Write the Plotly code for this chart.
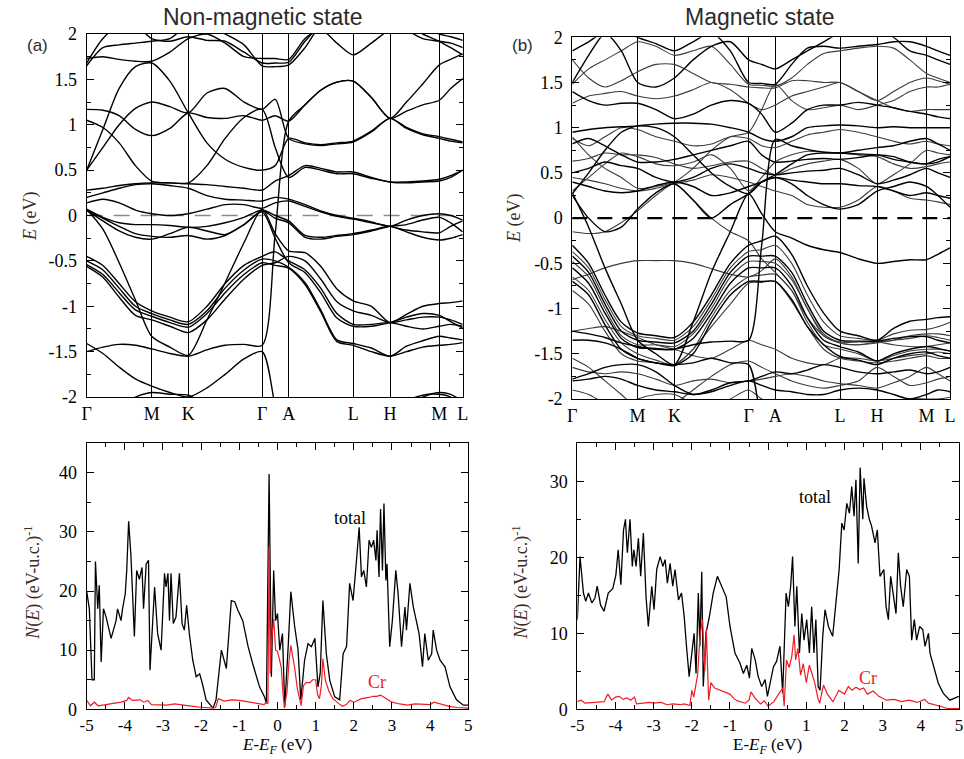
import plotly.graph_objects as go

SERIF = "Liberation Serif, Times New Roman, serif"
SANS = "Liberation Sans, Arial, sans-serif"

# ---------------- k-path ----------------
K_LABELS = ["Γ", "M", "K", "Γ", "A", "L", "H", "M", "L"]
K_HS = [0.0, 1.0, 1.563, 2.70, 3.108, 4.10, 4.667, 5.425, 5.785]
K_GRID = [0.0, 0.25, 0.5, 0.75, 1.0, 1.28, 1.563, 1.85, 2.13, 2.42, 2.70,
          2.90, 3.108, 3.36, 3.60, 3.85, 4.10, 4.38, 4.667, 4.92, 5.17, 5.425, 5.60, 5.785]

E_TICKS = [-2, -1.5, -1, -0.5, 0, 0.5, 1, 1.5, 2]
E_TICKTEXT = ["-2", "-1.5", "-1", "-0.5", "0", "0.5", "1", "1.5", "2"]
E_MINOR = [-1.75, -1.25, -0.75, -0.25, 0.25, 0.75, 1.25, 1.75]

# ---------------- non-magnetic bands (eV at K_GRID) ----------------
BANDS_NM = [
    [1.73, 1.75, 1.72, 1.70, 1.70, 1.80, 1.95, 2.00, 1.90, 1.75, 1.73, 1.73, 1.72, 1.95, 2.05, 1.90, 1.77, 1.90, 2.05, 2.10, 2.00, 1.92, 1.85, 1.77],
    [1.68, 1.95, 2.10, 2.10, 1.95, 1.92, 1.97, 1.93, 1.92, 1.80, 1.68, 1.68, 1.69, 1.92, 2.10, 2.20, 2.20, 2.20, 2.20, 2.20, 2.10, 2.00, 1.97, 1.93],
    [1.65, 1.85, 1.88, 1.90, 1.92, 1.95, 2.10, 2.10, 2.00, 1.88, 1.65, 1.64, 1.66, 1.85, 2.10, 2.20, 2.20, 2.20, 2.20, 2.05, 1.95, 1.92, 1.90, 1.85],
    [0.50, 0.75, 1.00, 1.18, 1.25, 1.20, 1.13, 1.35, 1.40, 1.25, 1.17, 1.28, 0.85, 0.79, 0.77, 0.79, 0.81, 0.92, 1.07, 0.97, 0.90, 0.87, 0.84, 0.81],
    [1.05, 0.97, 0.80, 0.55, 0.38, 0.36, 0.36, 0.55, 0.85, 1.08, 1.17, 0.75, 0.42, 0.53, 0.50, 0.46, 0.46, 0.41, 0.37, 0.37, 0.38, 0.40, 0.44, 0.50],
    [1.17, 1.16, 1.10, 0.95, 0.88, 0.96, 1.13, 1.08, 1.07, 1.10, 1.05, 1.10, 1.04, 1.22, 1.38, 1.47, 1.48, 1.30, 1.07, 1.15, 1.22, 1.27, 1.40, 1.51],
    [0.50, 0.95, 1.40, 1.64, 1.68, 1.48, 1.13, 0.80, 0.62, 0.53, 0.50, 0.55, 0.85, 0.80, 0.78, 0.80, 0.82, 0.93, 1.07, 0.96, 0.89, 0.85, 0.82, 0.80],
    [0.28, 0.30, 0.33, 0.35, 0.36, 0.36, 0.35, 0.34, 0.32, 0.30, 0.28, 0.38, 0.44, 0.55, 0.52, 0.48, 0.48, 0.42, 0.37, 0.36, 0.37, 0.38, 0.42, 0.50],
    [0.20, 0.25, 0.30, 0.34, 0.35, 0.33, 0.30, 0.22, 0.18, 0.17, 0.16, 0.20, 0.18, 0.12, 0.05, 0.00, -0.03, -0.07, -0.12, -0.05, 0.00, 0.02, 0.00, -0.05],
    [0.14, 0.18, 0.14, 0.06, 0.02, 0.00, 0.02, 0.07, 0.12, 0.12, 0.08, 0.14, 0.16, 0.10, 0.04, -0.01, -0.04, -0.08, -0.12, -0.16, -0.18, -0.19, -0.12, -0.06],
    [0.07, -0.02, -0.08, -0.10, -0.10, -0.11, -0.13, -0.12, -0.08, -0.02, 0.06, 0.00, -0.06, -0.22, -0.24, -0.22, -0.20, -0.16, -0.12, -0.18, -0.24, -0.27, -0.25, -0.21],
    [0.06, -0.06, -0.17, -0.24, -0.26, -0.20, -0.13, -0.17, -0.21, -0.10, 0.05, -0.03, -0.08, -0.24, -0.26, -0.23, -0.21, -0.17, -0.12, -0.10, -0.05, -0.02, -0.08, -0.18],
    [0.07, -0.15, -0.52, -0.93, -1.33, -1.45, -1.54, -1.15, -0.74, -0.30, 0.07, -0.20, -0.39, -0.41, -0.56, -0.81, -0.94, -1.00, -1.18, -1.09, -1.00, -0.97, -0.96, -0.94],
    [0.05, -0.03, -0.12, -0.20, -0.23, -0.24, -0.22, -0.26, -0.22, -0.10, 0.04, -0.25, -0.52, -0.63, -0.85, -1.13, -1.22, -1.22, -1.18, -1.12, -1.08, -1.10, -1.17, -1.24],
    [-0.45, -0.55, -0.75, -0.95, -1.05, -1.12, -1.17, -1.00, -0.75, -0.55, -0.45, -0.40, -0.50, -0.60, -0.80, -1.08, -1.20, -1.20, -1.18, -1.22, -1.25, -1.22, -1.20, -1.22],
    [-0.50, -0.60, -0.80, -1.00, -1.08, -1.15, -1.20, -1.05, -0.80, -0.60, -0.48, -0.50, -0.57, -0.74, -1.04, -1.37, -1.41, -1.46, -1.55, -1.44, -1.38, -1.33, -1.35, -1.37],
    [-0.54, -0.65, -0.85, -1.04, -1.11, -1.18, -1.23, -1.08, -0.85, -0.65, -0.52, -0.55, -0.58, -0.76, -1.06, -1.39, -1.43, -1.50, -1.55, -1.50, -1.45, -1.43, -1.42, -1.40],
    [-0.56, -0.68, -0.90, -1.10, -1.15, -1.22, -1.29, -1.15, -0.92, -0.70, -0.55, -0.52, -0.45, -0.50, -0.70, -0.95, -1.05, -1.10, -1.18, -1.15, -1.12, -1.12, -1.15, -1.20],
    [-1.41, -1.52, -1.67, -1.80, -1.88, -1.95, -2.00, -1.90, -1.75, -1.58, -1.50, -2.10, -2.70, -2.70, -2.70, -2.70, -2.70, -2.70, -2.70, -2.70, -2.70, -2.70, -2.70, -2.70],
    [-1.50, -1.45, -1.42, -1.43, -1.47, -1.52, -1.55, -1.48, -1.43, -1.42, -1.43, -0.20, 1.04, 1.22, 1.38, 1.47, 1.48, 1.30, 1.07, 1.25, 1.45, 1.66, 1.72, 1.78],
    [-2.20, -2.20, -2.10, -2.00, -1.95, -1.97, -1.98, -2.10, -2.20, -2.20, -2.20, -2.20, -2.20, -2.20, -2.20, -2.20, -2.20, -2.20, -2.20, -2.10, -2.00, -1.95, -1.97, -2.05],
    [-2.30, -2.30, -2.30, -2.30, -2.30, -2.30, -2.30, -2.30, -2.30, -2.30, -2.30, -2.30, -2.30, -2.30, -2.30, -2.30, -2.30, -2.30, -2.30, -2.05, -1.98, -1.97, -2.00, -2.10],
]

# ---------------- magnetic bands: two spin channels ----------------
BANDS_M_UP = [
    [1.50, 1.80, 2.05, 2.10, 2.00, 1.93, 1.85, 1.95, 2.05, 1.85, 1.50, 1.49, 1.48, 1.70, 1.88, 1.90, 1.88, 1.90, 1.92, 1.95, 1.95, 1.90, 1.85, 1.80],
    [1.85, 1.95, 2.05, 1.85, 1.50, 1.45, 1.55, 1.75, 1.90, 1.95, 1.75, 1.70, 1.65, 1.75, 1.85, 1.95, 2.05, 2.10, 2.10, 2.00, 1.85, 1.80, 1.75, 1.70],
    [1.40, 1.30, 1.25, 1.27, 1.27, 1.20, 1.10, 1.15, 1.25, 1.30, 1.27, 1.15, 0.95, 1.05, 1.20, 1.25, 1.25, 1.28, 1.25, 1.22, 1.18, 1.15, 1.12, 1.10],
    [0.95, 0.98, 1.00, 1.01, 1.02, 1.04, 1.05, 1.05, 1.04, 1.00, 0.95, 0.88, 0.85, 0.90, 1.00, 1.02, 1.03, 1.02, 1.00, 1.01, 1.00, 1.00, 1.00, 1.00],
    [0.82, 0.88, 0.80, 0.70, 0.62, 0.62, 0.65, 0.70, 0.75, 0.80, 0.85, 0.70, 0.62, 0.63, 0.65, 0.66, 0.65, 0.67, 0.70, 0.68, 0.62, 0.60, 0.62, 0.68],
    [0.50, 0.55, 0.62, 0.58, 0.55, 0.45, 0.40, 0.45, 0.55, 0.60, 0.55, 0.50, 0.48, 0.50, 0.52, 0.53, 0.55, 0.48, 0.38, 0.42, 0.48, 0.55, 0.50, 0.45],
    [0.40, 0.35, 0.30, 0.28, 0.30, 0.36, 0.40, 0.35, 0.25, 0.28, 0.35, 0.40, 0.45, 0.38, 0.25, 0.15, 0.10, 0.15, 0.30, 0.35, 0.40, 0.35, 0.25, 0.12],
    [0.25, 0.00, -0.15, -0.10, 0.10, 0.28, 0.38, 0.20, 0.00, 0.15, 0.27, 0.40, 0.45, 0.42, 0.40, 0.38, 0.38, 0.36, 0.35, 0.30, 0.25, 0.28, 0.25, 0.22],
    [0.27, 0.50, 0.75, 0.95, 1.02, 1.00, 0.90, 0.70, 0.50, 0.35, 0.27, 0.40, 0.48, 0.60, 0.70, 0.72, 0.72, 0.75, 0.78, 0.80, 0.85, 0.88, 0.82, 0.75],
    [0.28, -0.10, -0.55, -0.95, -1.35, -1.50, -1.62, -1.15, -0.60, -0.15, 0.27, 0.05, -0.15, -0.22, -0.30, -0.35, -0.38, -0.45, -0.50, -0.48, -0.46, -0.46, -0.40, -0.33],
    [-0.30, -0.50, -0.85, -1.15, -1.27, -1.30, -1.32, -1.15, -0.85, -0.50, -0.30, -0.25, -0.20, -0.40, -0.75, -1.05, -1.25, -1.30, -1.35, -1.22, -1.14, -1.12, -1.10, -1.09],
    [-0.42, -0.60, -0.95, -1.25, -1.35, -1.37, -1.38, -1.25, -0.95, -0.60, -0.42, -0.42, -0.42, -0.60, -0.95, -1.25, -1.35, -1.36, -1.36, -1.33, -1.31, -1.31, -1.35, -1.38],
    [-0.55, -0.72, -1.05, -1.33, -1.43, -1.44, -1.45, -1.33, -1.05, -0.72, -0.55, -0.55, -0.55, -0.75, -1.10, -1.35, -1.42, -1.48, -1.58, -1.50, -1.45, -1.42, -1.44, -1.47],
    [-0.70, -0.85, -1.18, -1.45, -1.55, -1.60, -1.63, -1.50, -1.15, -0.85, -0.70, -0.70, -0.70, -0.90, -1.20, -1.40, -1.53, -1.57, -1.62, -1.55, -1.50, -1.48, -1.52, -1.55],
    [-1.25, -1.28, -1.32, -1.38, -1.42, -1.45, -1.45, -1.40, -1.37, -1.36, -1.35, -0.30, 0.87, 0.80, 0.76, 0.73, 0.72, 0.71, 0.70, 0.65, 0.62, 0.60, 0.65, 0.68],
    [-1.35, -1.35, -1.38, -1.45, -1.55, -1.60, -1.62, -1.60, -1.55, -1.60, -1.62, -2.30, -2.90, -2.90, -2.90, -2.90, -2.90, -2.90, -2.90, -2.90, -2.90, -2.90, -2.90, -2.90],
    [-1.80, -1.78, -1.75, -1.78, -1.85, -1.90, -1.92, -1.95, -1.92, -1.85, -1.80, -1.85, -1.90, -1.92, -1.95, -1.95, -1.90, -1.88, -1.90, -1.95, -2.00, -1.95, -1.90, -1.92],
    [-1.78, -1.72, -1.65, -1.62, -1.62, -1.70, -1.85, -1.95, -1.90, -1.82, -1.80, -1.75, -1.70, -1.72, -1.68, -1.62, -1.65, -1.70, -1.72, -1.70, -1.68, -1.72, -1.70, -1.65],
]
BANDS_M_DN = [
    [1.48, 1.65, 1.75, 1.85, 1.95, 1.90, 1.80, 1.85, 1.90, 1.70, 1.48, 1.47, 1.46, 1.55, 1.70, 1.82, 1.85, 1.88, 1.90, 1.88, 1.75, 1.60, 1.55, 1.50],
    [1.75, 1.55, 1.45, 1.52, 1.62, 1.70, 1.70, 1.60, 1.50, 1.48, 1.45, 1.44, 1.44, 1.52, 1.52, 1.50, 1.50, 1.40, 1.30, 1.40, 1.50, 1.55, 1.52, 1.48],
    [1.27, 1.35, 1.38, 1.40, 1.35, 1.32, 1.35, 1.42, 1.50, 1.42, 1.27, 1.20, 1.25, 1.35, 1.40, 1.45, 1.50, 1.40, 1.30, 1.22, 1.18, 1.20, 1.20, 1.20],
    [0.88, 0.80, 0.90, 1.00, 0.98, 0.90, 0.85, 0.80, 0.82, 0.90, 0.88, 0.80, 0.78, 0.85, 0.92, 0.95, 0.98, 0.95, 0.90, 0.85, 0.82, 0.85, 0.82, 0.80],
    [0.63, 0.66, 0.72, 0.70, 0.70, 0.67, 0.60, 0.55, 0.58, 0.62, 0.63, 0.55, 0.48, 0.55, 0.60, 0.63, 0.65, 0.55, 0.38, 0.48, 0.60, 0.75, 0.72, 0.70],
    [0.45, 0.42, 0.38, 0.33, 0.30, 0.33, 0.38, 0.42, 0.48, 0.45, 0.40, 0.35, 0.30, 0.25, 0.15, 0.12, 0.12, 0.20, 0.35, 0.30, 0.22, 0.20, 0.18, 0.15],
    [0.30, 0.45, 0.60, 0.72, 0.68, 0.60, 0.58, 0.62, 0.70, 0.55, 0.30, 0.45, 0.62, 0.70, 0.74, 0.73, 0.72, 0.70, 0.68, 0.60, 0.55, 0.57, 0.60, 0.62],
    [-0.15, -0.17, -0.15, -0.05, 0.08, 0.25, 0.38, 0.20, 0.00, -0.15, -0.25, -0.45, -0.60, -0.80, -1.10, -1.30, -1.38, -1.40, -1.38, -1.35, -1.30, -1.28, -1.28, -1.30],
    [0.90, 0.70, 0.55, 0.45, 0.33, 0.35, 0.40, 0.55, 0.75, 0.90, 0.95, 1.20, 1.48, 1.30, 1.20, 1.22, 1.25, 1.20, 1.25, 1.30, 1.40, 1.45, 1.45, 1.48],
    [-0.68, -0.62, -0.55, -0.50, -0.47, -0.47, -0.47, -0.50, -0.56, -0.62, -0.65, -0.58, -0.45, -0.65, -1.00, -1.28, -1.38, -1.40, -1.37, -1.35, -1.33, -1.30, -1.32, -1.35],
    [-0.37, -0.55, -0.90, -1.20, -1.30, -1.33, -1.35, -1.20, -0.90, -0.55, -0.37, -0.35, -0.30, -0.50, -0.85, -1.15, -1.30, -1.33, -1.35, -1.28, -1.24, -1.23, -1.20, -1.15],
    [-0.48, -0.65, -1.00, -1.30, -1.40, -1.40, -1.42, -1.28, -1.00, -0.65, -0.48, -0.48, -0.50, -0.68, -1.00, -1.30, -1.37, -1.37, -1.37, -1.40, -1.42, -1.42, -1.40, -1.38],
    [-0.65, -0.80, -1.12, -1.38, -1.50, -1.57, -1.62, -1.45, -1.10, -0.80, -0.65, -0.63, -0.62, -0.80, -1.15, -1.40, -1.45, -1.50, -1.58, -1.52, -1.47, -1.45, -1.45, -1.47],
    [-0.80, -0.95, -1.25, -1.50, -1.58, -1.60, -1.62, -1.45, -1.20, -0.95, -0.72, -0.71, -0.70, -0.92, -1.20, -1.45, -1.55, -1.58, -1.60, -1.58, -1.55, -1.52, -1.55, -1.55],
    [-1.25, -1.22, -1.20, -1.25, -1.32, -1.40, -1.45, -1.52, -1.55, -1.45, -1.35, -1.40, -1.45, -1.55, -1.60, -1.62, -1.55, -1.55, -1.58, -1.55, -1.52, -1.50, -1.48, -1.50],
    [-1.65, -1.70, -1.72, -1.70, -1.72, -1.78, -1.85, -1.80, -1.78, -1.82, -1.80, -1.78, -1.75, -1.72, -1.75, -1.80, -1.83, -1.85, -1.88, -1.82, -1.75, -1.65, -1.72, -1.80],
    [-1.90, -1.95, -2.05, -2.10, -2.00, -1.95, -1.95, -2.05, -2.10, -2.00, -1.90, -2.00, -2.05, -2.10, -2.10, -2.05, -2.00, -2.05, -2.10, -2.05, -2.00, -2.00, -2.00, -1.98],
    [-1.55, -1.65, -1.80, -1.95, -2.10, -2.10, -2.05, -1.90, -1.75, -1.62, -1.58, -1.65, -1.72, -1.80, -1.85, -1.88, -1.85, -1.80, -1.65, -1.75, -1.85, -1.82, -1.78, -1.75],
]

# ---------------- DOS (E-EF [eV], N(E)) ----------------
DOS_NM_TOTAL = [
    (-5.00, 20), (-4.93, 17), (-4.86, 5), (-4.80, 5), (-4.77, 25), (-4.71, 17), (-4.67, 21), (-4.62, 8),
    (-4.56, 17), (-4.49, 15.6), (-4.36, 12), (-4.23, 15), (-4.19, 17), (-4.10, 15), (-4.06, 17), (-3.99, 19.5),
    (-3.95, 23.5), (-3.90, 31.8), (-3.84, 26), (-3.75, 12.3), (-3.69, 23.5), (-3.62, 22), (-3.55, 24), (-3.51, 17),
    (-3.44, 24.6), (-3.38, 25.2), (-3.34, 6.6), (-3.22, 20.7), (-3.14, 12.8), (-3.05, 10), (-2.96, 23), (-2.92, 20.7),
    (-2.87, 23), (-2.83, 15), (-2.79, 23), (-2.73, 14.5), (-2.66, 15.6), (-2.57, 23), (-2.50, 14.5), (-2.44, 13.4),
    (-2.38, 17.6), (-2.31, 12.8), (-2.22, 8.3), (-2.13, 5.5), (-2.04, 6), (-1.97, 4.4), (-1.87, 1.6), (-1.69, 0.2),
    (-1.61, 1.6), (-1.47, 10), (-1.34, 6.9), (-1.21, 18.4), (-1.12, 18.2), (-1.04, 16.8), (-0.91, 15), (-0.77, 10.6),
    (-0.64, 7.5), (-0.47, 3.8), (-0.34, 2.1), (-0.29, 1), (-0.22, 39.8), (-0.16, 5.5), (-0.10, 23.5), (-0.05, 15),
    (0.00, 16.2), (0.06, 10), (0.13, 12.8), (0.19, 0.45), (0.28, 10.6), (0.35, 19.9), (0.45, 14), (0.54, 10),
    (0.61, 1.6), (0.71, 8.3), (0.80, 11.1), (0.89, 10.6), (0.98, 12), (1.06, 3.8), (1.12, 6.1), (1.19, 18.4),
    (1.28, 9.4), (1.37, 4.9), (1.50, 2.1), (1.63, 1.6), (1.72, 9.4), (1.81, 10.6), (1.89, 21.3), (1.98, 18.4),
    (2.07, 25.2), (2.14, 30.8), (2.20, 22.4), (2.26, 23.5), (2.33, 20.7), (2.40, 28.6), (2.46, 27.4), (2.52, 28.6),
    (2.58, 25.2), (2.61, 30.3), (2.66, 22.4), (2.70, 33.9), (2.75, 23.5), (2.79, 34.8), (2.84, 21.8), (2.87, 24.6),
    (2.94, 10.6), (3.01, 15), (3.10, 23.5), (3.16, 19.6), (3.25, 10.6), (3.34, 17.3), (3.38, 13.4), (3.47, 21.3),
    (3.56, 17.3), (3.64, 15), (3.71, 12.8), (3.80, 7.2), (3.86, 12.8), (3.95, 8.3), (4.04, 9.4), (4.08, 13.4),
    (4.17, 10), (4.26, 8.3), (4.39, 7.2), (4.52, 3.8), (4.69, 1.6), (4.87, 0.7), (5.00, 0.7),
]
DOS_NM_CR = [
    (-5.0, 1.5), (-4.9, 0.6), (-4.8, 1.2), (-4.7, 0.6), (-4.5, 0.8), (-4.3, 1.0), (-4.1, 1.2), (-3.95, 1.5),
    (-3.9, 2.0), (-3.8, 1.5), (-3.6, 1.6), (-3.5, 1.2), (-3.4, 1.5), (-3.3, 0.8), (-3.1, 0.8), (-2.9, 0.7),
    (-2.7, 0.9), (-2.5, 0.7), (-2.3, 0.6), (-2.1, 0.4), (-1.9, 0.3), (-1.7, 0.2), (-1.62, 0.3), (-1.55, 1.8),
    (-1.4, 1.4), (-1.2, 1.6), (-1.0, 1.5), (-0.8, 1.3), (-0.5, 1.0), (-0.35, 0.8), (-0.3, 1.2), (-0.25, 1.0),
    (-0.22, 27.5), (-0.19, 6.0), (-0.15, 12.0), (-0.10, 15.3), (-0.05, 10.0), (0.0, 9.8), (0.05, 8.5), (0.10, 7.0),
    (0.14, 3.0), (0.18, 0.2), (0.25, 3.0), (0.30, 8.0), (0.35, 10.8), (0.40, 9.0), (0.45, 7.0), (0.52, 3.5),
    (0.58, 2.0), (0.62, 0.6), (0.68, 4.0), (0.75, 4.5), (0.85, 4.5), (0.92, 5.0), (1.0, 5.0), (1.05, 2.5),
    (1.1, 1.8), (1.15, 4.0), (1.19, 8.6), (1.25, 5.0), (1.35, 3.0), (1.45, 1.8), (1.6, 1.0), (1.7, 0.5),
    (1.8, 0.8), (1.9, 1.5), (2.0, 1.2), (2.2, 1.8), (2.4, 2.0), (2.5, 2.2), (2.6, 2.2), (2.7, 2.4),
    (2.8, 2.0), (2.9, 1.6), (3.0, 1.2), (3.2, 0.9), (3.4, 0.7), (3.6, 0.9), (3.8, 0.8), (4.0, 0.8),
    (4.1, 1.2), (4.3, 0.8), (4.5, 0.5), (4.7, 0.3), (5.0, 0.2),
]
DOS_M_TOTAL = [
    (-5.00, 11.8), (-4.93, 20.1), (-4.84, 15.3), (-4.78, 14.2), (-4.71, 15.3), (-4.62, 14.0), (-4.54, 14.6), (-4.48, 16.2),
    (-4.39, 13.7), (-4.30, 12.9), (-4.19, 15.3), (-4.07, 15.9), (-3.99, 17.7), (-3.93, 21.0), (-3.86, 16.4), (-3.79, 23.6),
    (-3.74, 25.0), (-3.69, 20.6), (-3.62, 25.0), (-3.56, 18.8), (-3.52, 21.0), (-3.46, 18.8), (-3.40, 22.5), (-3.34, 17.5),
    (-3.27, 23.2), (-3.20, 14.8), (-3.14, 10.9), (-3.05, 16.2), (-2.99, 13.1), (-2.92, 18.4), (-2.83, 20.1), (-2.76, 18.8),
    (-2.70, 19.7), (-2.64, 16.6), (-2.57, 19.2), (-2.50, 16.2), (-2.44, 18.4), (-2.35, 14.4), (-2.27, 15.3), (-2.20, 12.2),
    (-2.14, 8.3), (-2.07, 4.3), (-2.00, 7.4), (-1.94, 10.0), (-1.89, 4.7), (-1.83, 15.3), (-1.79, 8.3), (-1.74, 18.1),
    (-1.70, 3.0), (-1.63, 10.0), (-1.54, 12.2), (-1.44, 15.3), (-1.33, 17.5), (-1.22, 16.2), (-1.10, 14.8), (-1.00, 10.9),
    (-0.87, 7.4), (-0.74, 6.1), (-0.65, 4.7), (-0.56, 5.8), (-0.49, 4.1), (-0.43, 8.0), (-0.34, 6.5), (-0.26, 4.3),
    (-0.17, 3.0), (-0.08, 3.9), (-0.02, 1.7), (0.05, 3.4), (0.14, 5.6), (0.22, 6.3), (0.31, 8.3), (0.38, 2.1),
    (0.47, 15.3), (0.53, 13.5), (0.59, 16.2), (0.64, 20.1), (0.70, 10.9), (0.75, 16.2), (0.82, 7.4), (0.88, 12.6),
    (0.94, 9.1), (1.01, 11.8), (1.08, 7.4), (1.14, 13.5), (1.20, 7.4), (1.25, 11.8), (1.31, 3.0), (1.36, 2.5),
    (1.43, 9.6), (1.49, 13.1), (1.58, 10.9), (1.69, 9.6), (1.79, 15.3), (1.86, 18.4), (1.93, 24.5), (1.99, 23.6),
    (2.06, 27.1), (2.13, 25.8), (2.19, 29.3), (2.25, 25.4), (2.30, 30.2), (2.36, 19.2), (2.41, 31.8), (2.48, 25.0),
    (2.51, 30.4), (2.58, 26.7), (2.65, 25.0), (2.71, 24.1), (2.80, 21.9), (2.86, 23.6), (2.93, 17.5), (3.03, 18.4),
    (3.09, 13.5), (3.15, 11.8), (3.21, 17.5), (3.28, 15.3), (3.35, 12.6), (3.41, 20.6), (3.47, 16.2), (3.54, 13.5),
    (3.63, 18.4), (3.70, 17.5), (3.76, 9.1), (3.83, 11.8), (3.89, 9.1), (3.97, 10.9), (4.05, 10.5), (4.11, 8.3),
    (4.20, 10.0), (4.24, 7.4), (4.33, 5.6), (4.46, 3.4), (4.59, 2.1), (4.76, 1.2), (5.00, 1.7),
]
DOS_M_CR = [
    (-5.0, 1.0), (-4.9, 1.2), (-4.8, 0.8), (-4.5, 0.9), (-4.3, 1.0), (-4.2, 2.0), (-4.1, 1.2), (-4.0, 1.6),
    (-3.9, 1.7), (-3.8, 1.3), (-3.7, 1.5), (-3.6, 1.2), (-3.5, 1.6), (-3.45, 0.7), (-3.3, 0.8), (-3.1, 0.9),
    (-3.0, 0.8), (-2.8, 0.9), (-2.65, 0.6), (-2.5, 0.7), (-2.3, 0.6), (-2.2, 0.7), (-2.05, 0.5), (-2.0, 2.5),
    (-1.95, 1.6), (-1.85, 4.5), (-1.78, 10.0), (-1.72, 11.8), (-1.66, 5.0), (-1.62, 10.5), (-1.56, 1.2), (-1.5, 3.5),
    (-1.4, 2.8), (-1.3, 2.6), (-1.2, 2.4), (-1.1, 2.2), (-1.0, 2.0), (-0.9, 1.4), (-0.8, 1.1), (-0.6, 0.8),
    (-0.5, 1.2), (-0.45, 2.3), (-0.35, 1.5), (-0.2, 0.7), (-0.1, 1.1), (0.0, 0.4), (0.15, 1.0), (0.3, 2.2),
    (0.38, 2.8), (0.42, 0.4), (0.48, 6.5), (0.55, 5.5), (0.62, 7.0), (0.68, 9.8), (0.72, 6.5), (0.78, 8.0),
    (0.85, 4.5), (0.92, 6.0), (1.0, 3.5), (1.08, 5.8), (1.15, 4.5), (1.22, 3.5), (1.3, 1.5), (1.35, 0.8),
    (1.45, 3.2), (1.55, 2.0), (1.7, 1.0), (1.85, 2.5), (2.0, 2.0), (2.1, 3.0), (2.2, 2.5), (2.3, 2.9),
    (2.4, 2.6), (2.5, 2.8), (2.6, 2.0), (2.75, 2.4), (2.9, 1.7), (3.1, 1.2), (3.3, 1.3), (3.5, 1.0),
    (3.7, 1.2), (3.9, 0.9), (4.1, 1.3), (4.2, 0.8), (4.5, 0.4), (4.7, 0.1), (5.0, 0.1),
]

DOS_X_TICKS = [-5, -4, -3, -2, -1, 0, 1, 2, 3, 4, 5]
DOS_X_MINOR = [-4.5, -3.5, -2.5, -1.5, -0.5, 0.5, 1.5, 2.5, 3.5, 4.5]


def band_xy(bands):
    xs, ys = [], []
    for b in bands:
        xs += K_GRID + [None]
        ys += list(b) + [None]
    return xs, ys


fig = go.Figure()

x, y = band_xy(BANDS_NM)
fig.add_trace(go.Scatter(x=x, y=y, mode="lines", xaxis="x", yaxis="y", hoverinfo="skip",
                         line=dict(color="black", width=1.4, shape="spline", smoothing=0.75)))
x, y = band_xy(BANDS_M_DN)
fig.add_trace(go.Scatter(x=x, y=y, mode="lines", xaxis="x2", yaxis="y2", hoverinfo="skip",
                         line=dict(color="#3c3c3c", width=1.1, shape="spline", smoothing=0.75)))
x, y = band_xy(BANDS_M_UP)
fig.add_trace(go.Scatter(x=x, y=y, mode="lines", xaxis="x2", yaxis="y2", hoverinfo="skip",
                         line=dict(color="black", width=1.4, shape="spline", smoothing=0.75)))

for data, col, ax, w in [(DOS_NM_TOTAL, "black", "3", 1.3), (DOS_NM_CR, "#ee1c25", "3", 1.2),
                         (DOS_M_TOTAL, "black", "4", 1.3), (DOS_M_CR, "#ee1c25", "4", 1.2)]:
    fig.add_trace(go.Scatter(x=[p[0] for p in data], y=[p[1] for p in data], mode="lines",
                             xaxis="x" + ax, yaxis="y" + ax, hoverinfo="skip",
                             line=dict(color=col, width=w)))

TICKFONT = dict(family=SERIF, size=18, color="black")
XTICKFONT = dict(family=SERIF, size=17, color="black")


def band_x(domain, anchor):
    return dict(domain=domain, anchor=anchor, range=[K_HS[0], K_HS[-1]], tickmode="array",
                tickvals=K_HS, ticktext=K_LABELS, ticks="", showgrid=True, gridcolor="black",
                gridwidth=1, showline=True, mirror=True, linecolor="black", linewidth=1.2,
                zeroline=False, tickfont=TICKFONT)


def band_y(domain, anchor):
    return dict(domain=domain, anchor=anchor, range=[-2, 2], tickmode="array", tickvals=E_TICKS,
                ticktext=E_TICKTEXT, ticks="inside", ticklen=7, tickcolor="black",
                minor=dict(tickmode="array", tickvals=E_MINOR, ticks="inside", ticklen=4, tickcolor="black"),
                showline=True, mirror="allticks", linecolor="black", linewidth=1.2, showgrid=False,
                zeroline=False, tickfont=TICKFONT, ticklabelstandoff=5)


def dos_x(domain, anchor):
    return dict(domain=domain, anchor=anchor, range=[-5, 5], tickmode="array", tickvals=DOS_X_TICKS,
                ticktext=[str(v) if v >= 0 else "-" + str(-v) for v in DOS_X_TICKS],
                ticks="inside", ticklen=7, tickcolor="black",
                minor=dict(tickmode="array", tickvals=DOS_X_MINOR, ticks="inside", ticklen=4, tickcolor="black"),
                showline=True, mirror="allticks", linecolor="black", linewidth=1.2, showgrid=False,
                zeroline=False, tickfont=XTICKFONT, ticklabelstandoff=0)


def dos_y(domain, anchor, top, majors, minors):
    return dict(domain=domain, anchor=anchor, range=[0, top], tickmode="array", tickvals=majors,
                ticks="inside", ticklen=7, tickcolor="black",
                minor=dict(tickmode="array", tickvals=minors, ticks="inside", ticklen=4, tickcolor="black"),
                showline=True, mirror="allticks", linecolor="black", linewidth=1.2, showgrid=False,
                zeroline=False, tickfont=TICKFONT, ticklabelstandoff=5)


fig.update_layout(
    width=964, height=759, margin=dict(l=0, r=0, t=0, b=0, autoexpand=False),
    paper_bgcolor="white", plot_bgcolor="white", showlegend=False,
    xaxis=band_x([0.0899, 0.4800], "y"),
    yaxis=band_y([0.4769, 0.9552], "x"),
    xaxis2=band_x([0.5937, 0.9855], "y2"),
    yaxis2=band_y([0.4743, 0.9509], "x2"),
    xaxis3=dos_x([0.0899, 0.4858], "y3"),
    yaxis3=dos_y([0.0655, 0.4159], "x3", 45, [0, 10, 20, 30, 40], [5, 15, 25, 35]),
    xaxis4=dos_x([0.5989, 0.9948], "y4"),
    yaxis4=dos_y([0.0655, 0.4159], "x4", 35, [0, 10, 20, 30], [5, 15, 25]),
)

# Fermi level lines
fig.add_shape(type="line", xref="x", yref="y", x0=K_HS[0], x1=K_HS[-1], y0=0, y1=0,
              line=dict(color="#8a8a8a", width=1.6, dash="16px,11px"), layer="below")
fig.add_shape(type="line", xref="x2", yref="y2", x0=K_HS[0], x1=K_HS[-1], y0=0, y1=0,
              line=dict(color="black", width=2.2, dash="15px,10px"), layer="above")

LABEL_COL = "#3d2b1f"
ann = [
    dict(text="Non-magnetic state", x=0.2718, y=0.9776, font=dict(family=SANS, size=23, color="#2b2b2b")),
    dict(text="Magnetic state", x=0.788, y=0.9776, font=dict(family=SANS, size=23, color="#2b2b2b")),
    dict(text="(a)", x=0.0394, y=0.9407, font=dict(family=SANS, size=17, color="#2b2b2b")),
    dict(text="(b)", x=0.5415, y=0.9407, font=dict(family=SANS, size=17, color="#2b2b2b")),
    dict(text="<i>E</i> (eV)", x=0.0311, y=0.7154, textangle=-90, font=dict(family=SERIF, size=18, color=LABEL_COL)),
    dict(text="<i>E</i> (eV)", x=0.5342, y=0.7128, textangle=-90, font=dict(family=SERIF, size=18, color=LABEL_COL)),
    dict(text="<i>N</i>(<i>E</i>) (eV-u.c.)<sup>-1</sup>", x=0.034, y=0.232, textangle=-90,
         font=dict(family=SERIF, size=18, color=LABEL_COL)),
    dict(text="<i>N</i>(<i>E</i>) (eV-u.c.)<sup>-1</sup>", x=0.540, y=0.232, textangle=-90,
         font=dict(family=SERIF, size=18, color=LABEL_COL)),
]
for a in ann:
    a.update(xref="paper", yref="paper", showarrow=False, xanchor="center", yanchor="middle")
    fig.add_annotation(**a)

for txt, xc in [("<i>E</i>-<i>E<sub>F</sub></i> (eV)", 0.2874), ("E-<i>E<sub>F</sub></i> (eV)", 0.7957)]:
    fig.add_annotation(text=txt, x=xc, y=0.0, xref="paper", yref="paper", showarrow=False,
                       xanchor="center", yanchor="bottom", font=dict(family=SERIF, size=17, color="black"))

fig.add_annotation(text="total", x=1.9, y=32.4, xref="x3", yref="y3", showarrow=False,
                   font=dict(family=SERIF, size=18, color="black"))
fig.add_annotation(text="Cr", x=2.6, y=4.6, xref="x3", yref="y3", showarrow=False,
                   font=dict(family=SERIF, size=18, color="#ee1c25"))
fig.add_annotation(text="total", x=1.23, y=28.0, xref="x4", yref="y4", showarrow=False,
                   font=dict(family=SERIF, size=18, color="black"))
fig.add_annotation(text="Cr", x=2.61, y=4.1, xref="x4", yref="y4", showarrow=False,
                   font=dict(family=SERIF, size=18, color="#ee1c25"))

fig.write_html("out.html")
